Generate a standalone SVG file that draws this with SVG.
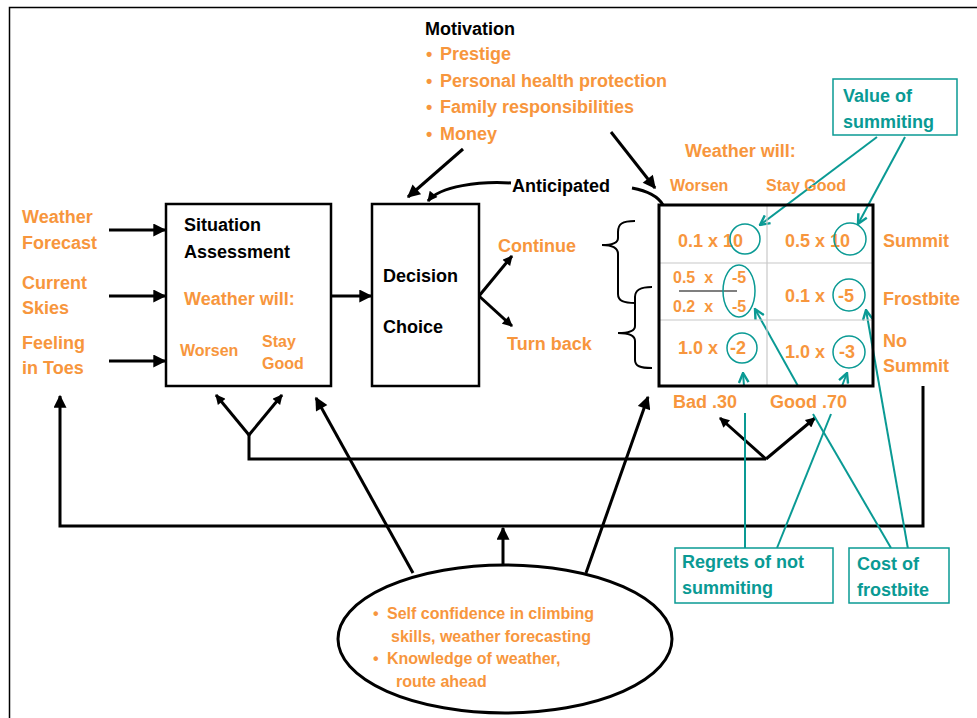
<svg xmlns="http://www.w3.org/2000/svg" width="977" height="718" viewBox="0 0 977 718">
<style>
text{font-family:"Liberation Sans",Arial,sans-serif;font-weight:bold;}
.o{fill:#f7963d;}
.k{fill:#000;}
.t{fill:#0a9a94;}
.s18{font-size:18px;}
.s16{font-size:16px;}
.box{fill:#fff;stroke:#000;stroke-width:2.5;}
.ln{fill:none;stroke:#000;stroke-width:3;}
.ln2{fill:none;stroke:#000;stroke-width:2;}
.tl{fill:none;stroke:#0a9a94;stroke-width:2;}
.tb{fill:#fff;stroke:#0a9a94;stroke-width:1.5;}
.grid{stroke:#c8c8c8;stroke-width:1.2;}
</style>
<defs>
<marker id="ah" viewBox="0 0 10 10" refX="9" refY="5" markerWidth="16" markerHeight="13" markerUnits="userSpaceOnUse" orient="auto"><path d="M0,0 L10,5 L0,10 z" fill="#000"/></marker>
<marker id="ahs" viewBox="0 0 10 10" refX="9" refY="5" markerWidth="12" markerHeight="10" markerUnits="userSpaceOnUse" orient="auto"><path d="M0,0 L10,5 L0,10 z" fill="#000"/></marker>
<marker id="th" viewBox="0 0 10 10" refX="9" refY="5" markerWidth="12" markerHeight="12" markerUnits="userSpaceOnUse" orient="auto"><path d="M1,1 L9,5 L1,9" fill="none" stroke="#0a9a94" stroke-width="2"/></marker>
</defs>
<rect width="977" height="718" fill="#fff"/>
<!-- frame -->
<path d="M9.5,718 V7.5 H977" fill="none" stroke="#000" stroke-width="1.5"/>

<g id="connectors">
<!-- inputs to situation -->
<line class="ln" x1="109" y1="230" x2="165" y2="230" marker-end="url(#ah)"/>
<line class="ln" x1="109" y1="296" x2="165" y2="296" marker-end="url(#ah)"/>
<line class="ln" x1="109" y1="361" x2="165" y2="361" marker-end="url(#ah)"/>
<!-- situation to decision -->
<line class="ln" x1="331" y1="296" x2="371" y2="296" marker-end="url(#ah)"/>
<!-- decision branches -->
<line class="ln" x1="479" y1="296" x2="512" y2="256" marker-end="url(#ahs)"/>
<line class="ln" x1="479" y1="296" x2="512" y2="326" marker-end="url(#ahs)"/>
<!-- motivation arrows -->
<line class="ln" x1="463" y1="149" x2="408" y2="197" marker-end="url(#ah)"/>
<line class="ln" x1="611" y1="132" x2="655" y2="188" marker-end="url(#ah)"/>
<!-- anticipated -->
<path class="ln" d="M511,183 C480,181 440,186 428,201" marker-end="url(#ahs)"/>
<path class="ln" d="M632,188 C648,191 658,196 663,205"/>
<!-- braces -->
<path class="ln2" d="M635,221 C622,221 618,224 618,232 V238 C618,243 612,245 602,245 C612,245 618,248 618,254 V294 C618,301 624,303 635,303"/>
<path class="ln2" d="M652,287 C640,287 635,290 635,297 V326 C635,331 629,333 618,333 C629,333 635,336 635,341 V360 C635,366 640,368 652,368"/>
<!-- outer loop -->
<path class="ln" d="M923,386 V526 H60 V396" marker-end="url(#ah)"/>
<!-- inner loop -->
<path class="ln" d="M766,459 H249 V435"/>
<line class="ln" x1="249" y1="435" x2="216" y2="395" marker-end="url(#ahs)"/>
<line class="ln" x1="249" y1="435" x2="282" y2="395" marker-end="url(#ahs)"/>
<line class="ln" x1="766" y1="459" x2="720" y2="418" marker-end="url(#ahs)"/>
<line class="ln" x1="766" y1="459" x2="815" y2="418" marker-end="url(#ahs)"/>
<!-- ellipse arrows -->
<line class="ln" x1="503" y1="564" x2="503" y2="528" marker-end="url(#ah)"/>
<line class="ln" x1="413" y1="573" x2="316" y2="398" marker-end="url(#ah)"/>
<line class="ln" x1="586" y1="573" x2="648" y2="397" marker-end="url(#ah)"/>
<!-- teal annotation lines -->
<line class="tl" x1="877" y1="137" x2="760" y2="225" marker-end="url(#th)"/>
<line class="tl" x1="905" y1="137" x2="858" y2="224" marker-end="url(#th)"/>
<line class="tl" x1="745" y1="548" x2="745" y2="413"/>
<line class="tl" x1="744" y1="386" x2="743" y2="373" marker-end="url(#th)"/>
<line class="tl" x1="777" y1="548" x2="831" y2="414"/>
<line class="tl" x1="842" y1="386" x2="847" y2="373" marker-end="url(#th)"/>
<line class="tl" x1="891" y1="548" x2="813" y2="414"/>
<line class="tl" x1="798" y1="386" x2="755" y2="309" marker-end="url(#th)"/>
<line class="tl" x1="908" y1="549" x2="866" y2="310" marker-end="url(#th)"/>
</g>

<g id="inputs">
<text class="o s18" x="22" y="223">Weather</text>
<text class="o s18" x="22" y="249">Forecast</text>
<text class="o s18" x="22" y="289">Current</text>
<text class="o s18" x="22" y="314">Skies</text>
<text class="o s18" x="22" y="349">Feeling</text>
<text class="o s18" x="22" y="374">in Toes</text>
</g>

<g id="situation">
<rect class="box" x="166" y="204" width="165" height="182"/>
<text class="k s18" x="184" y="231">Situation</text>
<text class="k s18" x="184" y="258">Assessment</text>
<text class="o s18" x="184" y="305">Weather will:</text>
<text class="o s16" x="180" y="356">Worsen</text>
<text class="o s16" x="262" y="347">Stay</text>
<text class="o s16" x="262" y="369">Good</text>
</g>

<g id="decision">
<rect class="box" x="372" y="204" width="107" height="182"/>
<text class="k s18" x="383" y="282">Decision</text>
<text class="k s18" x="383" y="333">Choice</text>
</g>

<g id="options">
<text class="o s18" x="498" y="252">Continue</text>
<text class="o s18" x="507" y="350">Turn back</text>
</g>

<g id="motivation">
<text class="k s18" x="425" y="35">Motivation</text>
<text class="o s18" x="426" y="60">•</text><text class="o s18" x="440" y="60">Prestige</text>
<text class="o s18" x="426" y="87">•</text><text class="o s18" x="440" y="87">Personal health protection</text>
<text class="o s18" x="426" y="113">•</text><text class="o s18" x="440" y="113">Family responsibilities</text>
<text class="o s18" x="426" y="140">•</text><text class="o s18" x="440" y="140">Money</text>
</g>

<g id="anticipated">
<text class="k s18" x="512" y="192">Anticipated</text>
</g>

<g id="matrix">
<text class="o s18" x="685" y="157">Weather will:</text>
<text class="o s16" x="670" y="191">Worsen</text>
<text class="o s16" x="766" y="191">Stay Good</text>
<line class="grid" x1="767" y1="205" x2="767" y2="386"/>
<line class="grid" x1="659" y1="263" x2="873" y2="263"/>
<line class="grid" x1="659" y1="320" x2="873" y2="320"/>
<rect x="659" y="205" width="214" height="181" fill="none" stroke="#000" stroke-width="3"/>
<text class="o s18" x="678" y="247">0.1 x 10</text>
<text class="o s18" x="785" y="247">0.5 x 10</text>
<text class="o s16" x="673" y="283" xml:space="preserve">0.5  x</text>
<text class="o s16" x="673" y="312" xml:space="preserve">0.2  x</text>
<text class="o s16" x="732" y="283">-5</text>
<text class="o s16" x="732" y="312">-5</text>
<line x1="679" y1="291" x2="737" y2="291" stroke="#000" stroke-width="1.2"/>
<text class="o s18" x="785" y="302">0.1 x</text>
<text class="o s18" x="838" y="302">-5</text>
<text class="o s18" x="678" y="354">1.0 x</text>
<text class="o s18" x="730" y="354">-2</text>
<text class="o s18" x="785" y="358">1.0 x</text>
<text class="o s18" x="839" y="358">-3</text>
<circle cx="745" cy="239" r="15" fill="none" stroke="#0a9a94" stroke-width="1.5"/>
<circle cx="850" cy="239" r="16" fill="none" stroke="#0a9a94" stroke-width="1.5"/>
<ellipse cx="739" cy="291" rx="16" ry="26" fill="none" stroke="#0a9a94" stroke-width="1.5"/>
<circle cx="849" cy="295" r="16" fill="none" stroke="#0a9a94" stroke-width="1.5"/>
<circle cx="742" cy="348" r="15" fill="none" stroke="#0a9a94" stroke-width="1.5"/>
<circle cx="849" cy="352" r="16" fill="none" stroke="#0a9a94" stroke-width="1.5"/>
<text class="o s18" x="883" y="247">Summit</text>
<text class="o s18" x="883" y="305">Frostbite</text>
<text class="o s18" x="883" y="347">No</text>
<text class="o s18" x="883" y="372">Summit</text>
<text class="o s18" x="673" y="408">Bad .30</text>
<text class="o s18" x="770" y="408">Good .70</text>
</g>

<g id="value-of-summiting">
<rect class="tb" x="833" y="79" width="124" height="56"/>
<text class="t s18" x="843" y="102">Value of</text>
<text class="t s18" x="843" y="128">summiting</text>
</g>

<g id="regrets">
<rect class="tb" x="675" y="548" width="158" height="55"/>
<text class="t s18" x="682" y="568">Regrets of not</text>
<text class="t s18" x="682" y="594">summiting</text>
</g>

<g id="cost-of-frostbite">
<rect class="tb" x="849" y="548" width="100" height="55"/>
<text class="t s18" x="857" y="570">Cost of</text>
<text class="t s18" x="857" y="596">frostbite</text>
</g>

<g id="confidence">
<ellipse cx="505" cy="639" rx="167" ry="74" fill="#fff" stroke="#000" stroke-width="3"/>
<text class="o s16" x="373" y="619">•</text><text class="o s16" x="387" y="619">Self confidence in climbing</text>
<text class="o s16" x="391" y="642">skills, weather forecasting</text>
<text class="o s16" x="373" y="664">•</text><text class="o s16" x="387" y="664">Knowledge of weather,</text>
<text class="o s16" x="396" y="687">route ahead</text>
</g>
</svg>
